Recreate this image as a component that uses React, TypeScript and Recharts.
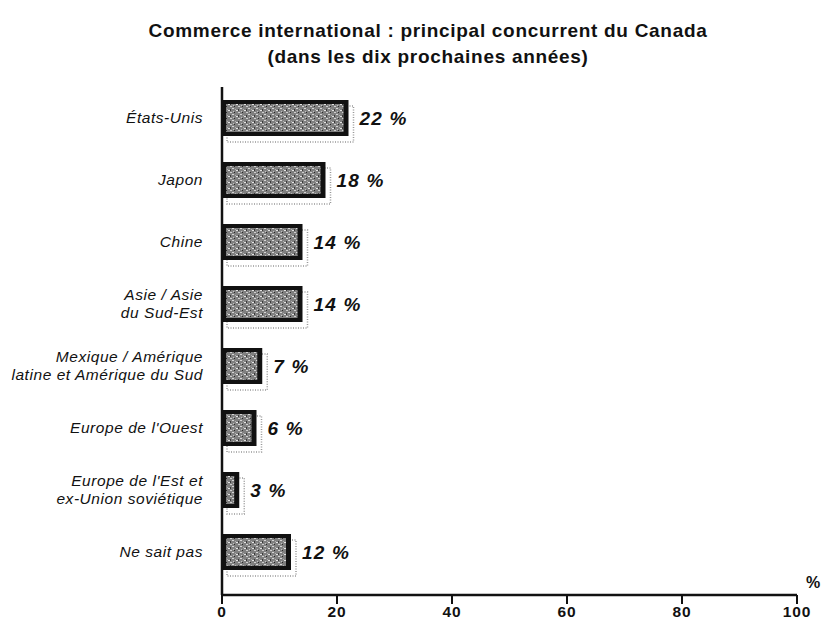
import { Bar, BarChart, LabelList, XAxis, YAxis } from "recharts";

const categories = [
  "États-Unis",
  "Japon",
  "Chine",
  "Asie / Asie\ndu Sud-Est",
  "Mexique / Amérique\nlatine et Amérique du Sud",
  "Europe de l'Ouest",
  "Europe de l'Est et\nex-Union soviétique",
  "Ne sait pas",
];
const shares = [22, 18, 14, 14, 7, 6, 3, 12];
const xTicks = [0, 20, 40, 60, 80, 100];

const data = categories.map((name, i) => ({ name, value: shares[i] }));

const font = "'Liberation Sans', Arial, Helvetica, sans-serif";

function CategoryTick(props: any) {
  const { x, y, payload } = props;
  const lines: string[] = String(payload.value).split("\n");
  const lh = 18;
  const start = -((lines.length - 1) * lh) / 2;
  return (
    <text
      x={x - 11}
      y={y}
      textAnchor="end"
      fontFamily={font}
      fontStyle="italic"
      fontSize={15.5}
      letterSpacing={0.55}
      fill="#111"
    >
      {lines.map((l, i) => (
        <tspan key={i} x={x - 11} dy={i === 0 ? start + 5 : lh}>
          {l}
        </tspan>
      ))}
    </text>
  );
}

function ShadowBar(props: any) {
  const { x, y, width, height } = props;
  if (!width || width <= 0) return null;
  return (
    <g>
      <rect
        x={x + 5}
        y={y + 6}
        width={width}
        height={height}
        fill="none"
        stroke="#999"
        strokeWidth={1.5}
        strokeDasharray="1 1.5"
      />
      <rect x={x} y={y} width={width} height={height} fill="#111" />
      <rect
        x={x + 4}
        y={y + 4}
        width={Math.max(width - 9, 0)}
        height={height - 8}
        fill="url(#grain)"
      />
    </g>
  );
}

export default function App() {
  return (
    <div style={{ position: "absolute", left: 0, top: 0, width: 824, height: 626, background: "#fff" }}>
      <div
        style={{
          position: "absolute",
          left: 0,
          top: 18,
          width: 856,
          textAlign: "center",
          fontFamily: font,
          fontWeight: "bold",
          fontSize: 19,
          letterSpacing: 0.7,
          lineHeight: "26px",
          color: "#111",
        }}
      >
        Commerce international : principal concurrent du Canada
        <br />
        (dans les dix prochaines années)
      </div>
      <div
        style={{
          position: "absolute",
          left: 806,
          top: 574,
          fontFamily: font,
          fontWeight: "bold",
          fontSize: 16,
          color: "#111",
        }}
      >
        %
      </div>
      <BarChart
        width={824}
        height={626}
        data={data}
        layout="vertical"
        margin={{ top: 87, right: 27, bottom: 0, left: 0 }}
      >
        <defs>
          <pattern id="grain" width="8" height="6" patternUnits="userSpaceOnUse">
            <rect width="8" height="6" fill="#808080" />
            <rect x="0" y="0" width="2" height="1" fill="#d6d6d6" />
            <rect x="4" y="2" width="2" height="1" fill="#e4e4e4" />
            <rect x="2" y="4" width="1" height="1" fill="#2a2a2a" />
            <rect x="6" y="1" width="1" height="2" fill="#3a3a3a" />
            <rect x="1" y="3" width="1" height="1" fill="#c0c0c0" />
            <rect x="6" y="4" width="2" height="1" fill="#cfcfcf" />
            <rect x="3" y="1" width="1" height="1" fill="#b0b0b0" />
          </pattern>
        </defs>
        <XAxis
          type="number"
          domain={[0, 100]}
          ticks={xTicks}
          height={31}
          axisLine={{ stroke: "#111", strokeWidth: 2.5 }}
          tickLine={{ stroke: "#111", strokeWidth: 2 }}
          tickSize={9}
          tick={{ fontFamily: font, fontWeight: "bold", fontSize: 15.5, fill: "#111", letterSpacing: 0.8 }}
          interval={0}
        />
        <YAxis
          type="category"
          dataKey="name"
          width={222}
          padding={{ top: 0, bottom: 12 }}
          axisLine={{ stroke: "#111", strokeWidth: 2.5 }}
          tickLine={false}
          tick={<CategoryTick />}
          interval={0}
        />
        <Bar dataKey="value" barSize={36} shape={<ShadowBar />} isAnimationActive={false}>
          <LabelList
            dataKey="value"
            position="right"
            offset={11}
            formatter={(v: any) => `${v} %`}
            style={{
              fontFamily: font,
              fontWeight: "bold",
              fontStyle: "italic",
              fontSize: 19,
              letterSpacing: 1.2,
              fill: "#111",
            }}
          />
        </Bar>
      </BarChart>
    </div>
  );
}
